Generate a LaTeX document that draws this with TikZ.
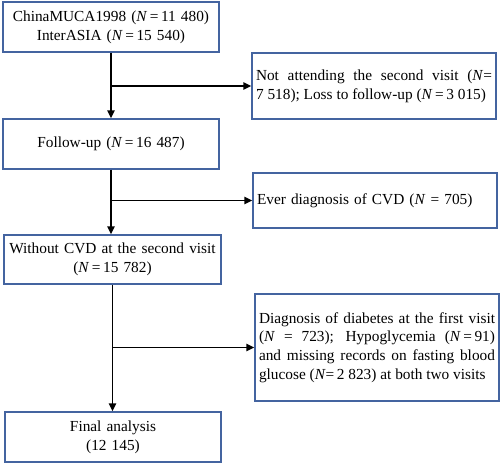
\documentclass[tikz,border=0pt]{standalone}
\usepackage{fontspec}
\setmainfont{Liberation Serif}
\usetikzlibrary{arrows.meta}
\definecolor{boxblue}{RGB}{68,100,160}
\begin{document}
\begin{tikzpicture}[x=0.75pt,y=-0.75pt,
  box/.style={draw=boxblue,line width=1.1pt,align=center,inner ysep=0pt,inner xsep=0pt,
    font=\fontsize{11.5}{14}\selectfont},
  mainbox/.style={box,text width=162pt},
  sidebox/.style={box,text width=177pt,inner xsep=3pt,align=justify},
  conn/.style={line width=1.1pt,-{Triangle[length=6pt,width=5.5pt]}}]
\useasboundingbox (0,0) rectangle (500,464);
\node[mainbox,minimum height=37.5pt] (A) at (111,27)
  {ChinaMUCA1998 (\textit{N}\,=\,11 480)\\InterASIA (\textit{N}\,=\,15 540)};
\node[sidebox,minimum height=49.5pt] (B) at (374,86)
  {\parfillskip=0pt Not attending the second visit (\textit{N}=\linebreak 7~518); Loss to follow-up (\textit{N}\,=\,3~015)};
\node[mainbox,minimum height=37.5pt] (C) at (111,144)
  {Follow-up (\textit{N}\,=\,16 487)};
\node[box,text width=177pt,inner xsep=3pt,align=left,minimum height=41.25pt] (D) at (375,200.5)
  {Ever diagnosis of CVD (\textit{N} = 705)};
\node[mainbox,text width=163pt,minimum height=36.75pt] (E) at (112.5,259.5)
  {Without CVD at the second visit\\(\textit{N}\,=\,15 782)};
\node[sidebox,minimum height=80.25pt] (F) at (377,347.5)
  {\parfillskip=0pt Diagnosis of diabetes at the first visit\linebreak (\textit{N} = 723); Hypoglycemia (\textit{N}\,=\,91)\linebreak and missing records on fasting blood\linebreak glucose (\textit{N}=\,2~823) at both two visits};
\node[mainbox,minimum height=37.5pt] (G) at (113,437)
  {Final analysis\\(12 145)};
\coordinate (b1) at (A.south |- B.west);
\coordinate (b2) at (C.south |- D.west);
\coordinate (b3) at (E.south |- F.west);
\draw[conn] (A.south) -- (A.south |- C.north);
\draw[conn] (b1) -- (B.west);
\draw[conn] (C.south) -- (C.south |- E.north);
\draw[conn] (b2) -- (D.west);
\draw[conn] (E.south) -- (E.south |- G.north);
\draw[conn] (b3) -- (F.west);
\end{tikzpicture}
\end{document}
